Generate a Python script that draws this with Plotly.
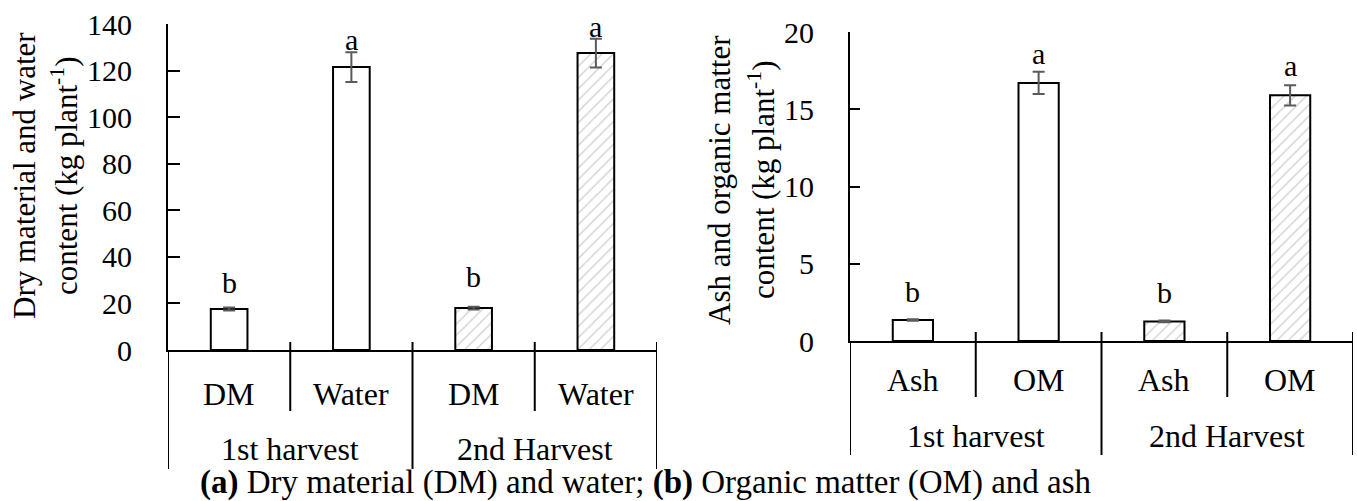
import plotly.graph_objects as go

# ---------------- data ----------------
harvests = ["1st harvest", "2nd Harvest"]

left_cats = ["DM", "Water", "DM", "Water"]
left_vals = [17.6, 121.5, 18.0, 127.5]
left_err = [0.6, 6.4, 0.6, 6.2]
left_letters = ["b", "a", "b", "a"]
left_yticks = [0, 20, 40, 60, 80, 100, 120, 140]

right_cats = ["Ash", "OM", "Ash", "OM"]
right_vals = [1.36, 16.7, 1.27, 15.9]
right_err = [0.05, 0.72, 0.05, 0.66]
right_letters = ["b", "a", "b", "a"]
right_yticks = [0, 5, 10, 15, 20]

left_title = ["Dry material and water", "content (kg plant<sup>-1</sup>)"]
right_title = ["Ash and organic matter", "content (kg plant<sup>-1</sup>)"]
caption = "<b>(a)</b> Dry material (DM) and water; <b>(b)</b> Organic matter (OM) and ash"

# ---------------- style ----------------
W, H = 1357, 501
FONT = "Liberation Serif, Times New Roman, serif"
FS = 30
FS_TITLE = 31
FS_CAT = 32
FS_CAP = 33
pattern_shapes = ["", "", "/", "/"]
left_letter_shift = [25, 13, 30, 12]
right_letter_shift = [28, 18, 28, 20]


def px_y(p):
    return (H - p) / H


def px_x(p):
    return p / W


fig = go.Figure()

panels = [
    dict(xa="x", ya="y", cats=left_cats, vals=left_vals,
         err=left_err, letters=left_letters, shifts=left_letter_shift, ticks=left_yticks,
         rng=[0, 140], width=0.30, ticklen=12, axis_px=350, top_px=24, sep_top=342,
         inner_bot=411, outer_bot=469, lvl1=394, lvl2=449, title=left_title,
         title_x=[25, 65], title_y=176, x0=168, x1=657),
    dict(xa="x2", ya="y2", cats=right_cats, vals=right_vals,
         err=right_err, letters=right_letters, shifts=right_letter_shift, ticks=right_yticks,
         rng=[0, 20], width=0.32, ticklen=10, axis_px=341, top_px=32, sep_top=332,
         inner_bot=397, outer_bot=455, lvl1=380, lvl2=436, title=right_title,
         title_x=[720, 762], title_y=180, x0=850, x1=1353),
]

xpos = list(range(len(left_cats)))
annotations = []
shapes = []

for k, p in enumerate(panels):
    fig.add_trace(go.Bar(
        x=xpos, y=p["vals"], xaxis=p["xa"], yaxis=p["ya"], width=p["width"],
        marker=dict(color="white", line=dict(color="black", width=2),
                    pattern=dict(shape=pattern_shapes, fgcolor="#a6a6a6", bgcolor="white",
                                 size=8, solidity=0.18)),
        error_y=dict(type="data", array=p["err"], visible=True, color="#5a5a5a",
                     thickness=2, width=6),
        showlegend=False, hoverinfo="skip",
    ))
    xref = p["xa"]
    yref = p["ya"]
    # significance letters
    for i, (v, e, t, s) in enumerate(zip(p["vals"], p["err"], p["letters"], p["shifts"])):
        annotations.append(dict(x=i, y=v + e, xref=xref, yref=yref, text=t, showarrow=False,
                                yanchor="middle", yshift=s, font=dict(size=FS)))
    # inner category labels
    for i, c in enumerate(p["cats"]):
        annotations.append(dict(x=i, y=px_y(p["lvl1"]), xref=xref, yref="paper", text=c,
                                showarrow=False, yanchor="middle", font=dict(size=FS_CAT)))
    # outer harvest labels
    for j, hv in enumerate(harvests):
        annotations.append(dict(x=2 * j + 0.5, y=px_y(p["lvl2"]), xref=xref, yref="paper",
                                text=hv, showarrow=False, yanchor="middle",
                                font=dict(size=FS_CAT)))
    # separators
    for b in [0.5, 2.5]:
        shapes.append(dict(type="line", xref=xref, yref="paper", x0=b, x1=b,
                           y0=px_y(p["sep_top"]), y1=px_y(p["inner_bot"]),
                           line=dict(color="black", width=2)))
    for b in [-0.5, 1.5, 3.5]:
        shapes.append(dict(type="line", xref=xref, yref="paper", x0=b, x1=b,
                           y0=px_y(p["sep_top"] if b > -0.5 else p["axis_px"]),
                           y1=px_y(p["outer_bot"]),
                           line=dict(color="black", width=2)))
    # y title (two lines)
    for line_text, tx in zip(p["title"], p["title_x"]):
        annotations.append(dict(x=px_x(tx), y=px_y(p["title_y"]), xref="paper",
                                yref="paper", text=line_text, textangle=-90, showarrow=False,
                                xanchor="center", yanchor="middle",
                                font=dict(size=FS_TITLE)))

annotations.append(dict(x=px_x(646), y=px_y(482), xref="paper", yref="paper", text=caption,
                        showarrow=False, xanchor="center", yanchor="middle",
                        font=dict(size=FS_CAP)))


def xaxis(p, anchor):
    return dict(range=[-0.5, 3.5], showticklabels=False, showline=True, linecolor="black",
                linewidth=2, ticks="", showgrid=False, zeroline=False, fixedrange=True,
                automargin=False, anchor=anchor, domain=[px_x(p["x0"]), px_x(p["x1"])])


def yaxis(p, anchor):
    return dict(range=p["rng"], tickvals=p["ticks"], showline=True, linecolor="black",
                linewidth=2, ticks="inside", ticklen=p["ticklen"], tickwidth=2,
                tickcolor="black", showgrid=False, zeroline=False, anchor=anchor,
                domain=[px_y(p["axis_px"]), px_y(p["top_px"])], ticklabelstandoff=28,
                tickfont=dict(size=FS), fixedrange=True, automargin=False)


fig.update_layout(
    width=W, height=H,
    margin=dict(l=0, r=0, t=0, b=0, pad=0, autoexpand=False),
    paper_bgcolor="white", plot_bgcolor="white",
    font=dict(family=FONT, size=FS, color="black"),
    xaxis=xaxis(panels[0], "y"),
    xaxis2=xaxis(panels[1], "y2"),
    yaxis=yaxis(panels[0], "x"),
    yaxis2=yaxis(panels[1], "x2"),
    annotations=annotations,
    shapes=shapes,
    showlegend=False,
)

fig.write_html("out.html", config={"displayModeBar": False},
               post_script="document.body.style.margin='0px';")
